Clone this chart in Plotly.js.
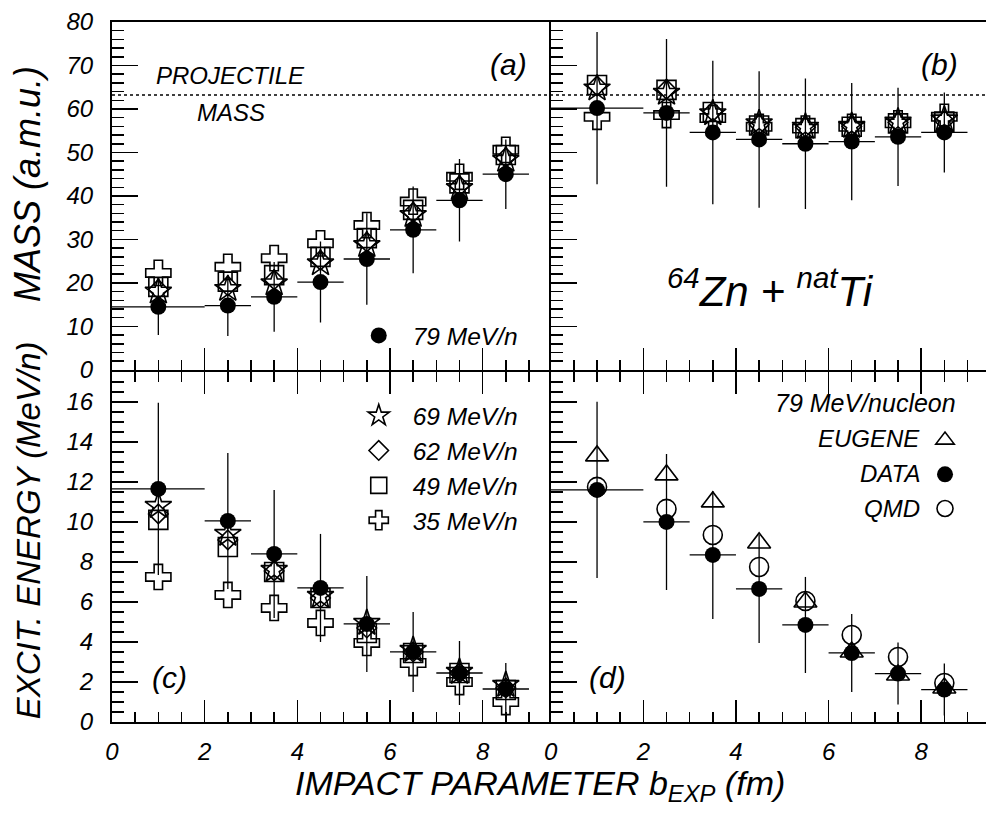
<!DOCTYPE html>
<html>
<head>
<meta charset="utf-8">
<script src="https://cdn.plot.ly/plotly-3.0.1.min.js"></script>
<style>html,body{margin:0;padding:0;background:#fff}</style>
</head>
<body>
<div id="chart" style="width:986px;height:814px"></div>
<script>
// ---- data ----
const bExp = [1, 2.5, 3.5, 4.5, 5.5, 6.5, 7.5, 8.5];
const binLo = [1, 0.5, 0.5, 0.5, 0.5, 0.5, 0.5, 0.5];
const binHi = [1, 0.5, 0.5, 0.5, 0.5, 0.5, 0.5, 0.5];

// (a) mass
const massA_79 = [14.5, 14.8, 16.8, 20.2, 25.5, 32.2, 39.0, 45.0];
const massA_79err = [6.5, 7.0, 8.0, 9.3, 10.5, 10.0, 9.5, 8.0];
const massA_69 = [18.0, 18.6, 19.9, 24.5, 28.7, 35.6, 41.8, 48.3];
const massA_62 = [18.5, 19.3, 20.7, 25.2, 29.4, 36.2, 42.3, 48.8];
const massA_49 = [19.1, 20.3, 21.8, 26.0, 30.3, 36.8, 42.9, 49.4];
const massA_35 = [22.3, 23.7, 25.7, 29.1, 33.3, 38.7, 44.4, 50.6];

// (b) mass
const massB_79 = [60.2, 59.1, 54.6, 53.0, 52.0, 52.5, 53.6, 54.6];
const massB_79err = [17.5, 17.0, 16.5, 15.7, 15.0, 13.5, 11.3, 9.2];
const massB_69 = [64.7, 63.7, 59.0, 56.7, 55.9, 56.1, 57.1, 57.6];
const massB_62 = [65.3, 64.5, 59.4, 56.4, 55.8, 56.0, 56.9, 57.3];
const massB_49 = [65.5, 64.4, 59.3, 56.2, 55.6, 55.9, 56.7, 57.1];
const massB_35 = [58.2, 58.6, 57.9, 55.9, 55.5, 55.9, 56.7, 58.2];
const projectileMass = 63.2;

// (c) excitation energy
const excC_79 = [11.65, 10.05, 8.4, 6.7, 4.9, 3.5, 2.45, 1.65];
const excC_79err = [4.3, 3.4, 3.2, 2.7, 2.4, 2.0, 1.6, 1.3];
const excC_69 = [10.8, 9.4, 7.6, 6.3, 4.95, 3.6, 2.5, 1.85];
const excC_62 = [10.4, 9.1, 7.55, 6.2, 4.7, 3.5, 2.45, 1.7];
const excC_49 = [10.1, 8.75, 7.5, 6.2, 4.45, 3.45, 2.45, 1.6];
const excC_35 = [7.25, 6.35, 5.7, 4.95, 3.95, 2.95, 2.0, 1.0];

// (d) excitation energy, 79 MeV/nucleon
const excD_data = [11.6, 10.0, 8.35, 6.65, 4.85, 3.45, 2.42, 1.62];
const excD_err = [4.4, 3.4, 3.2, 2.7, 2.4, 1.95, 1.55, 1.3];
const excD_eugene = [13.3, 12.35, 11.0, 8.95, 6.0, 3.5, 2.35, 1.7];
const excD_qmd = [11.75, 10.65, 9.35, 7.75, 6.05, 4.35, 3.25, 1.95];

const seriesNames = ['69 MeV/n', '62 MeV/n', '49 MeV/n', '35 MeV/n'];
const seriesSymbols = ['star-open', 'diamond-open', 'square-open', 'cross-open'];
const seriesSizes = [20, 15, 19, 21];

// ---- traces ----
const FONT = 'Liberation Sans, Arial, Helvetica, sans-serif';
const NB = '\u00a0';
const traces = [];

function openSeries(yArrs, xa, ya, legendName, show) {
  // drawn back to front: cross, square, diamond, star
  for (let k = 3; k >= 0; k--) {
    traces.push({
      type: 'scatter', mode: 'markers', x: bExp, y: yArrs[k],
      xaxis: xa, yaxis: ya, name: seriesNames[k],
      showlegend: show, legend: legendName, legendrank: k + 1,
      marker: {symbol: seriesSymbols[k], size: seriesSizes[k], color: 'black', line: {width: 1.6, color: 'black'}}
    });
  }
}
function dataSeries(y, err, xa, ya, name, show, legendName, rank) {
  traces.push({
    type: 'scatter', mode: 'markers', x: bExp, y: y, xaxis: xa, yaxis: ya,
    name: name, showlegend: show, legend: legendName, legendrank: rank || 1,
    marker: {symbol: 'circle', size: 16, color: 'black'},
    error_y: {type: 'data', array: err, visible: true, width: 0, thickness: 1.3, color: 'black'},
    error_x: {type: 'data', array: binHi, arrayminus: binLo, symmetric: false, visible: true, width: 0, thickness: 1.3, color: 'black'}
  });
}

openSeries([massA_69, massA_62, massA_49, massA_35], 'x', 'y', 'legend', false);
dataSeries(massA_79, massA_79err, 'x', 'y', '79 MeV/n', true, 'legend');

openSeries([massB_69, massB_62, massB_49, massB_35], 'x2', 'y2', 'legend', false);
dataSeries(massB_79, massB_79err, 'x2', 'y2', '79 MeV/n', false, 'legend');

openSeries([excC_69, excC_62, excC_49, excC_35], 'x3', 'y3', 'legend2', true);
dataSeries(excC_79, excC_79err, 'x3', 'y3', '79 MeV/n', false, 'legend');

// panel (d): legend symbols only (labels are drawn to their left as text)
traces.push({type: 'scatter', mode: 'markers', x: bExp, y: excD_eugene, xaxis: 'x4', yaxis: 'y4',
  name: NB, showlegend: true, legend: 'legend3', legendrank: 1,
  marker: {symbol: 'triangle-up-open', size: 20, color: 'black', line: {width: 1.6}}});
traces.push({type: 'scatter', mode: 'markers', x: bExp, y: excD_qmd, xaxis: 'x4', yaxis: 'y4',
  name: NB + NB, showlegend: true, legend: 'legend3', legendrank: 3,
  marker: {symbol: 'circle-open', size: 19, color: 'black', line: {width: 1.6}}});
dataSeries(excD_data, excD_err, 'x4', 'y4', NB + NB + NB, true, 'legend3', 2);

// ---- axes ----
const tickFont = {family: FONT, size: 24, color: 'black', style: 'italic'};
function xAx(domain, anchor, labels, mirror, range) {
  return {domain: domain, anchor: anchor, range: range, showgrid: false, zeroline: false,
    showline: true, linecolor: 'black', linewidth: 2, mirror: mirror,
    ticks: 'inside', dtick: 2, tick0: 0, ticklen: 22, tickwidth: 1.5, tickcolor: 'black',
    minor: {dtick: 0.5, tick0: 0, ticks: 'inside', ticklen: 10, tickwidth: 1.5, tickcolor: 'black', showgrid: false},
    showticklabels: labels, tickfont: tickFont, ticklabelstandoff: 7};
}
function yAx(domain, anchor, labels, range, dtick, minorDtick) {
  return {domain: domain, anchor: anchor, range: range, showgrid: false, zeroline: false,
    showline: true, linecolor: 'black', linewidth: 2, mirror: false,
    ticks: 'inside', dtick: dtick, tick0: 0, ticklen: 26, tickwidth: 1.5, tickcolor: 'black',
    minor: {dtick: minorDtick, tick0: 0, ticks: 'inside', ticklen: 12, tickwidth: 1.5, tickcolor: 'black', showgrid: false},
    showticklabels: labels, tickfont: tickFont, ticklabelstandoff: 12};
}
const xL = [0, 0.502], xR = [0.502, 1];
const yT = [0.503, 1], yB = [0, 0.5002];

const ann = [];
function A(text, x, y, size, xanchor, extra) {
  ann.push(Object.assign({text: text, xref: 'paper', yref: 'paper', x: x, y: y, showarrow: false,
    xanchor: xanchor || 'center', yanchor: 'middle',
    font: {family: FONT, size: size, color: 'black', style: 'italic'}}, extra || {}));
}
A('(a)', 0.454, 0.9386, 30);
A('(b)', 0.947, 0.9386, 30);
A('(c)', 0.066, 0.063, 30);
A('(d)', 0.5675, 0.064, 30);
A('PROJECTILE', 0.136, 0.923, 24);
A('MASS', 0.136, 0.871, 24);
A('<sup>64</sup>Zn + <sup>nat</sup>Ti', 0.7529, 0.62, 42);
A('79 MeV/nucleon', 0.9675, 0.456, 25, 'right');
A('EUGENE', 0.9265, 0.4057, 24, 'right');
A('DATA', 0.9265, 0.3557, 24, 'right');
A('QMD', 0.9265, 0.3057, 24, 'right');
A('IMPACT PARAMETER b<sub>EXP</sub> (fm)', 0.4897, -0.090, 34);
A('MASS (a.m.u.)', -0.096, 0.7686, 36, 'center', {textangle: -90});
A('EXCIT. ENERGY (MeV/n)', -0.096, 0.274, 33, 'center', {textangle: -90});

const legendFont = {family: FONT, size: 24.5, color: 'black', style: 'italic'};
const layout = {
  width: 986, height: 814,
  margin: {l: 112, r: 0, t: 22, b: 92, autoexpand: false},
  paper_bgcolor: 'white', plot_bgcolor: 'white',
  font: {family: FONT, color: 'black'},
  xaxis: xAx(xL, 'y', false, true, [0, 9.47]),
  yaxis: yAx(yT, 'x', true, [0, 80], 10, 2),
  xaxis2: xAx(xR, 'y2', false, true, [0, 9.4]),
  yaxis2: yAx(yT, 'x2', false, [0, 80], 10, 2),
  xaxis3: xAx(xL, 'y3', true, 'ticks', [0, 9.47]),
  yaxis3: yAx(yB, 'x3', true, [0, 17.5], 2, 0.5),
  xaxis4: xAx(xR, 'y4', true, 'ticks', [0, 9.4]),
  yaxis4: yAx(yB, 'x4', false, [0, 17.5], 2, 0.5),
  legend: {x: 0.2663, y: 0.5843, xanchor: 'left', yanchor: 'top', bgcolor: 'rgba(0,0,0,0)', font: legendFont, itemwidth: 58},
  legend2: {x: 0.2663, y: 0.4697, xanchor: 'left', yanchor: 'top', bgcolor: 'rgba(0,0,0,0)', font: legendFont, itemwidth: 58, traceorder: 'normal'},
  legend3: {x: 0.9245, y: 0.4343, xanchor: 'left', yanchor: 'top', bgcolor: 'rgba(0,0,0,0)',
    font: {family: FONT, size: 24, color: 'black'}, itemwidth: 40, traceorder: 'normal'},
  shapes: [{type: 'line', xref: 'paper', yref: 'y', x0: 0, x1: 1, y0: projectileMass, y1: projectileMass,
    line: {color: 'black', width: 1.5, dash: 'dot'}}],
  annotations: ann
};
Plotly.newPlot('chart', traces, layout, {displayModeBar: false, staticPlot: true});
</script>
</body>
</html>
